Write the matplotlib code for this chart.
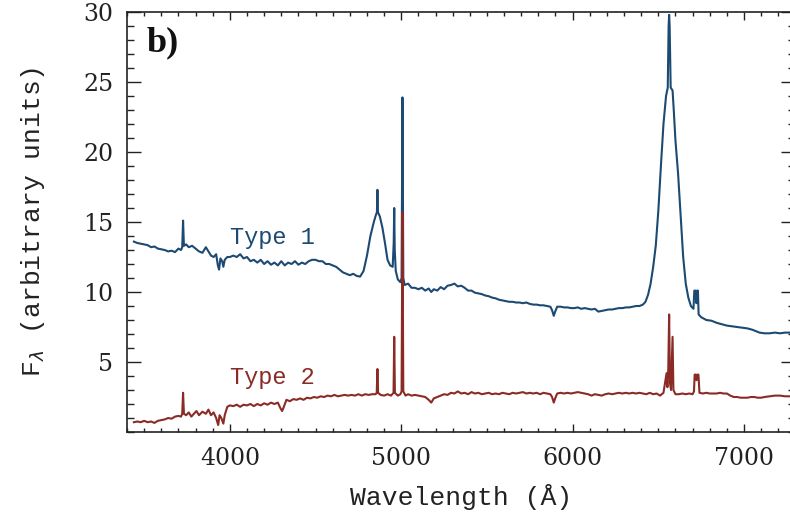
import matplotlib

matplotlib.use("Agg")
import matplotlib.pyplot as plt
from matplotlib.ticker import MultipleLocator


# Type 1 composite (blue)
TYPE1_WAVE = [
    3440, 3460, 3480, 3500, 3520, 3540, 3560, 3580, 3600, 3620, 3640, 3660, 3680,
    3700, 3715, 3722, 3727, 3732, 3745, 3760, 3780, 3800, 3820, 3840, 3860, 3875,
    3890, 3905, 3920, 3930, 3937, 3945, 3955, 3962, 3970, 3985, 4000, 4020, 4040,
    4060, 4080, 4100, 4120, 4140, 4160, 4180, 4200, 4220, 4240, 4260, 4280, 4300,
    4320, 4340, 4360, 4380, 4400, 4420, 4440, 4460, 4480, 4500, 4520, 4540, 4560,
    4580, 4600, 4620, 4640, 4660, 4680, 4700, 4720, 4740, 4760, 4780, 4800, 4820,
    4840, 4852, 4858, 4861, 4864, 4875, 4890, 4905, 4920, 4935, 4950, 4956, 4959,
    4962, 4968, 4980, 4995, 5002, 5007, 5012, 5020, 5040, 5060, 5080, 5100, 5120,
    5140, 5160, 5175, 5190, 5210, 5230, 5250, 5270, 5290, 5310, 5330, 5350, 5370,
    5390, 5410, 5430, 5450, 5470, 5490, 5510, 5530, 5550, 5570, 5590, 5610, 5630,
    5650, 5670, 5690, 5710, 5730, 5750, 5770, 5790, 5810, 5830, 5850, 5870, 5880,
    5890, 5898, 5910, 5930, 5950, 5970, 5990, 6010, 6030, 6050, 6070, 6090, 6110,
    6130, 6150, 6170, 6190, 6210, 6230, 6250, 6270, 6290, 6310, 6330, 6350, 6370,
    6390, 6410, 6425, 6440, 6455, 6470, 6485, 6500, 6515, 6530, 6545, 6555, 6560,
    6563, 6566, 6572, 6583, 6590, 6600, 6615, 6630, 6645, 6660, 6675, 6690, 6705,
    6710, 6716, 6722, 6726, 6731, 6735, 6750, 6780, 6810, 6840, 6870, 6900, 6930,
    6960, 6990, 7020, 7050, 7070, 7090, 7120, 7150, 7180, 7210, 7240, 7270, 7300,
]
TYPE1_FLUX = [
    13.6, 13.5, 13.45, 13.4, 13.35, 13.2, 13.25, 13.1, 13.05, 13.0, 12.9, 12.95, 12.85,
    13.1, 13.0, 13.2, 15.1, 13.3, 13.4, 13.2, 13.3, 13.1, 12.9, 12.8, 13.2, 12.9,
    12.6, 12.5, 12.7, 11.9, 11.6, 12.4, 12.2, 11.8, 12.3, 12.5, 12.5, 12.6, 12.5,
    12.7, 12.4, 12.5, 12.2, 12.3, 12.1, 12.3, 12.0, 12.2, 11.95, 12.1, 11.9, 12.2,
    11.9, 12.1, 12.0, 12.2, 11.95, 12.1, 12.0, 12.2, 12.3, 12.3, 12.2, 12.2, 12.0,
    12.0, 11.9, 11.8, 11.6, 11.4, 11.3, 11.2, 11.3, 11.15, 11.1, 11.5, 12.6, 14.0,
    15.0, 15.5, 15.7, 17.3, 15.7, 15.4, 14.6, 13.5, 12.3, 11.9, 11.8, 13.5, 16.0,
    13.0, 11.5, 10.9, 10.7, 11.0, 23.9, 11.0, 10.5, 10.6, 10.3, 10.3, 10.2, 10.3,
    10.1, 10.25, 10.0, 10.2, 10.1, 10.35, 10.2, 10.45, 10.5, 10.6, 10.4, 10.45, 10.3,
    10.1, 10.1, 9.95, 9.9, 9.85, 9.75, 9.7, 9.6, 9.55, 9.45, 9.4, 9.35, 9.3,
    9.3, 9.25, 9.25, 9.2, 9.25, 9.15, 9.1, 9.1, 9.05, 9.05, 9.0, 8.95, 8.7,
    8.3, 8.6, 8.95, 8.95, 8.9, 8.9, 8.85, 8.85, 8.9, 8.8, 8.85, 8.8, 8.75,
    8.8, 8.6, 8.65, 8.7, 8.75, 8.75, 8.8, 8.85, 8.85, 8.9, 8.9, 8.95, 9.0,
    9.0, 9.1, 9.3, 9.8, 10.6, 11.8, 13.3, 15.8, 19.0, 22.0, 24.0, 24.6, 29.0,
    29.8, 29.0, 24.6, 24.4, 23.0, 20.8, 18.5, 15.5, 12.5, 10.6, 9.6, 9.0, 8.8,
    10.1, 10.1, 9.2, 10.1, 10.1, 8.4, 8.2, 8.0, 7.95, 7.8, 7.7, 7.6, 7.55,
    7.5, 7.45, 7.4, 7.3, 7.2, 7.1, 7.05, 7.05, 7.1, 7.05, 7.1, 7.1, 7.1,
]

# Type 2 composite (red)
TYPE2_WAVE = [
    3440, 3460, 3480, 3500, 3520, 3540, 3560, 3580, 3600, 3620, 3640, 3660, 3680,
    3700, 3715, 3722, 3727, 3732, 3745, 3760, 3775, 3790, 3805, 3820, 3840, 3860,
    3875, 3890, 3905, 3920, 3932, 3940, 3950, 3962, 3970, 3985, 4000, 4020, 4040,
    4060, 4080, 4100, 4120, 4140, 4160, 4180, 4200, 4220, 4240, 4260, 4280, 4295,
    4305, 4315, 4330, 4350, 4370, 4390, 4410, 4430, 4450, 4470, 4490, 4510, 4530,
    4550, 4570, 4590, 4610, 4630, 4650, 4670, 4690, 4710, 4730, 4750, 4770, 4790,
    4810, 4830, 4850, 4857, 4861, 4865, 4880, 4900, 4920, 4940, 4955, 4959, 4963,
    4980, 4995, 5002, 5007, 5012, 5025, 5040, 5060, 5080, 5100, 5120, 5140, 5160,
    5175, 5190, 5210, 5230, 5250, 5270, 5290, 5310, 5330, 5350, 5370, 5390, 5410,
    5430, 5450, 5470, 5490, 5510, 5530, 5550, 5570, 5590, 5610, 5630, 5650, 5670,
    5690, 5710, 5730, 5750, 5770, 5790, 5810, 5830, 5850, 5870, 5880, 5890, 5898,
    5910, 5930, 5950, 5970, 5990, 6010, 6030, 6050, 6070, 6090, 6110, 6130, 6150,
    6170, 6190, 6210, 6230, 6250, 6270, 6290, 6310, 6330, 6350, 6370, 6390, 6410,
    6430, 6450, 6470, 6490, 6510, 6530, 6540, 6548, 6553, 6558, 6563, 6568, 6574,
    6579, 6583, 6588, 6600, 6620, 6640, 6660, 6680, 6700, 6708, 6712, 6718, 6723,
    6728, 6734, 6740, 6760, 6780, 6800, 6820, 6840, 6860, 6880, 6900, 6920, 6940,
    6960, 6980, 7000, 7020, 7040, 7060, 7080, 7100, 7120, 7150, 7180, 7210, 7240,
    7270, 7300,
]
TYPE2_FLUX = [
    0.7, 0.75, 0.7, 0.8, 0.7, 0.75, 0.65, 0.8, 0.85, 0.9, 1.0, 0.95, 1.1,
    1.15, 1.1, 1.3, 2.8, 1.3, 1.2, 1.4, 1.1, 1.3, 1.5, 1.2, 1.45, 1.3,
    1.6, 1.2, 1.4, 1.0, 0.5, 1.2, 1.0, 0.6, 1.2, 1.8, 1.9, 1.85, 1.95,
    1.8, 1.95, 1.9, 2.0, 1.85, 2.0, 1.9, 2.05, 1.95, 2.1, 2.0, 2.1, 1.7,
    1.5, 1.8, 2.3, 2.2, 2.35, 2.3, 2.4, 2.3, 2.45, 2.4, 2.5, 2.45, 2.55,
    2.5, 2.6, 2.55, 2.65, 2.55, 2.6, 2.65, 2.6, 2.65, 2.6, 2.7, 2.6, 2.7,
    2.65, 2.7, 2.7, 2.8, 4.5, 2.8, 2.65, 2.6, 2.7, 2.6, 2.8, 6.8, 2.8,
    2.6, 2.7, 2.9, 15.7, 2.9, 2.6, 2.7, 2.6, 2.65, 2.6, 2.55, 2.5, 2.3,
    2.1, 2.4, 2.5, 2.6, 2.7, 2.65, 2.8, 2.75, 2.9, 2.75, 2.8, 2.7, 2.85,
    2.75, 2.8, 2.7, 2.75, 2.8, 2.7, 2.75, 2.7, 2.8, 2.75, 2.7, 2.8, 2.75,
    2.8, 2.85, 2.75, 2.8, 2.75, 2.8, 2.7, 2.8, 2.75, 2.7, 2.5, 2.1, 2.4,
    2.75, 2.8, 2.75, 2.8, 2.75, 2.8, 2.85, 2.8, 2.75, 2.7, 2.6, 2.7, 2.65,
    2.6, 2.7, 2.75, 2.7, 2.75, 2.8, 2.75, 2.8, 2.75, 2.8, 2.75, 2.8, 2.75,
    2.7, 2.8, 2.7, 2.75, 2.6, 2.8, 3.6, 4.2, 3.2, 4.5, 8.4, 3.5, 3.0,
    5.0, 6.8, 3.0, 2.7, 2.7, 2.75, 2.7, 2.75, 2.7, 2.9, 4.1, 4.1, 3.7,
    4.1, 4.1, 2.8, 2.75, 2.8, 2.75, 2.75, 2.75, 2.8, 2.75, 2.75, 2.6, 2.5,
    2.5, 2.45, 2.45, 2.45, 2.5, 2.5, 2.45, 2.45, 2.5, 2.55, 2.6, 2.6, 2.55,
    2.55, 2.55,
]

BLUE = "#1c4a73"
RED = "#8a2b26"
LABEL_FONT = "Liberation Mono"
TICK_FONT = "DejaVu Serif"


def main() -> None:
    fig = plt.figure(figsize=(7.9, 5.22), dpi=100)
    ax = fig.add_axes([0.1608, 0.1724, 0.845, 0.8046])

    ax.plot(TYPE1_WAVE, TYPE1_FLUX, color=BLUE, lw=1.5)
    ax.plot(TYPE2_WAVE, TYPE2_FLUX, color=RED, lw=1.5)

    ax.set_xlim(3400, 7295)
    ax.set_ylim(0, 30)

    ax.xaxis.set_minor_locator(MultipleLocator(100))
    ax.yaxis.set_minor_locator(MultipleLocator(1))
    ax.set_yticks([5, 10, 15, 20, 25, 30])
    ax.set_xticks([4000, 5000, 6000, 7000])

    ax.tick_params(axis="both", which="both", direction="in",
                   top=True, right=True, width=1.0, color="#222222")
    ax.tick_params(axis="x", which="major", length=6, pad=11)
    ax.tick_params(axis="x", which="minor", length=3)
    ax.tick_params(axis="y", which="major", length=10, pad=10)
    ax.tick_params(axis="y", which="minor", length=5)
    for lab in ax.get_xticklabels() + ax.get_yticklabels():
        lab.set_fontfamily(TICK_FONT)
        lab.set_fontsize(17)
        lab.set_color("#222222")

    for spine in ax.spines.values():
        spine.set_linewidth(1.2)
        spine.set_color("#222222")

    ax.set_xlabel("Wavelength (\u00c5)", family=LABEL_FONT, fontsize=19,
                  color="#222222", labelpad=10)
    ax.set_ylabel(r"F$_\lambda$ (arbitrary units)", family=LABEL_FONT,
                  fontsize=19, color="#222222", labelpad=26)

    ax.text(4000, 13.9, "Type 1", family=LABEL_FONT, fontsize=17,
            color=BLUE, va="center", ha="left")
    ax.text(4000, 3.9, "Type 2", family=LABEL_FONT, fontsize=17,
            color=RED, va="center", ha="left")
    ax.text(0.03, 0.965, "b)", transform=ax.transAxes, family="Liberation Serif",
            fontweight="bold", fontsize=26, color="#111111", va="top", ha="left")

    fig.savefig("out.png", dpi=100)
    plt.close(fig)


if __name__ == "__main__":
    main()
